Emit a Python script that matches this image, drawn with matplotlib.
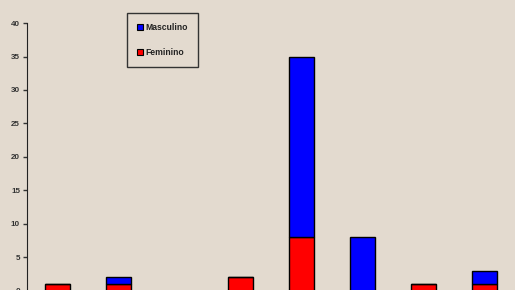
import matplotlib.pyplot as plt
from matplotlib.patches import Patch

# data
categorias = ["1", "2", "3", "4", "5", "6", "7", "8"]
feminino = [1, 1, 0, 2, 8, 0, 1, 1]
masculino = [0, 1, 0, 0, 27, 8, 0, 2]

BG = "#e3dacf"

plt.rcParams["font.family"] = ["Liberation Sans", "DejaVu Sans"]
plt.rcParams["font.weight"] = "bold"

fig = plt.figure(figsize=(5.15, 2.9), dpi=100, facecolor=BG)
ax = fig.add_axes([27 / 515, -0.002, 1 - 27 / 515, (290.5 - 23) / 290])
ax.set_facecolor(BG)

x = list(range(len(categorias)))
ax.bar(x, feminino, width=0.4, color="#ff0000", edgecolor="black", linewidth=1, zorder=3)
ax.bar(x, masculino, width=0.4, bottom=feminino, color="#0000ff", edgecolor="black",
       linewidth=1, zorder=3)

ax.set_xlim(-0.5, len(categorias) - 0.5)
ax.set_ylim(0, 40)
ax.set_yticks(range(0, 41, 5))
ax.set_xticks([])
ax.tick_params(axis="y", labelsize=5.8, colors="#333333", length=3, width=1, pad=2)
for lab in ax.get_yticklabels():
    lab.set_fontweight("bold")

for side in ["top", "right"]:
    ax.spines[side].set_visible(False)
ax.spines["left"].set_color("#222222")
ax.spines["bottom"].set_color("#222222")

# legend
handles = [Patch(facecolor="#0000ff", edgecolor="black", linewidth=0.8, label="Masculino"),
           Patch(facecolor="#ff0000", edgecolor="black", linewidth=0.8, label="Feminino")]
leg = fig.legend(handles=handles, loc="upper left", bbox_to_anchor=(127 / 515, 1 - 13 / 290),
                 fontsize=6.2, frameon=True, fancybox=False, edgecolor="#333333",
                 facecolor=BG, framealpha=1, handlelength=0.65, handleheight=0.65,
                 handletextpad=0.25, labelspacing=1.8, borderpad=1.2, borderaxespad=0)
leg.get_frame().set_linewidth(1)
for t in leg.get_texts():
    t.set_fontweight("bold")
    t.set_color("#222222")

fig.savefig("out.png", dpi=100, facecolor=BG)
